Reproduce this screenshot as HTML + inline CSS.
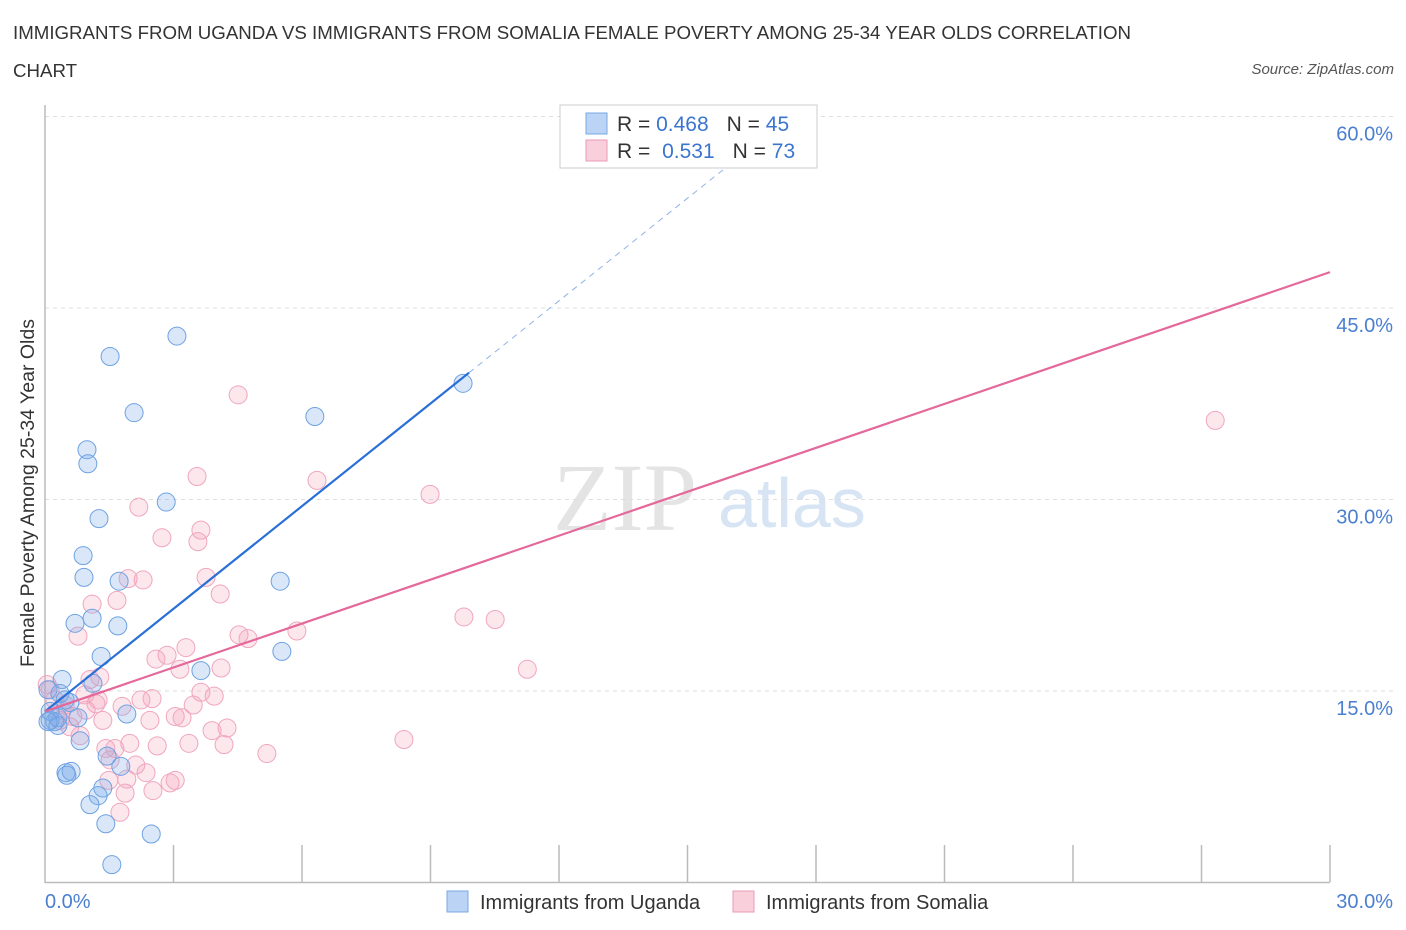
<!DOCTYPE html>
<html><head><meta charset="utf-8"><style>
body{margin:0;background:#fff;font-family:"Liberation Sans",Arial,sans-serif;}
.t{position:absolute;color:#333;}
</style></head><body>
<div style="position:relative;width:1406px;height:930px;overflow:hidden">
<div class="t" style="left:13px;top:14px;font-size:18.7px;line-height:38px;width:1160px">IMMIGRANTS FROM UGANDA VS IMMIGRANTS FROM SOMALIA FEMALE POVERTY AMONG 25-34 YEAR OLDS CORRELATION CHART</div>
<div class="t" style="right:12px;top:61px;font-size:15px;font-style:italic;color:#555">Source: ZipAtlas.com</div>
<svg id="svg" width="1406" height="930" style="position:absolute;left:0;top:0"></svg>
</div>
<script>
const ugandaX=[1.52,3.08,2.08,6.30,9.76,0.98,1.00,2.83,1.26,0.89,0.91,1.73,5.49,0.70,1.10,1.70,1.31,5.53,3.64,1.12,0.40,0.07,0.35,0.58,1.91,0.77,0.12,0.23,0.30,0.82,1.45,1.77,0.49,0.61,0.51,1.35,1.24,1.05,1.42,2.48,1.56,0.12,0.47,0.30,0.07];
const ugandaY=[41.2,42.8,36.8,36.5,39.1,33.9,32.8,29.8,28.5,25.6,23.9,23.6,23.6,20.3,20.7,20.1,17.7,18.1,16.6,15.6,15.9,15.1,14.8,14.1,13.2,12.9,12.7,12.6,12.3,11.1,9.9,9.1,8.6,8.7,8.4,7.4,6.8,6.1,4.6,3.8,1.4,13.4,14.3,12.9,12.6];
const somaliaX=[14.71,4.51,27.32,3.55,6.35,8.99,2.19,2.73,3.64,3.57,3.76,2.29,1.94,4.09,1.68,1.10,4.53,4.74,5.88,0.77,3.29,2.85,2.59,3.15,4.11,9.78,10.51,11.26,1.28,1.05,2.50,3.64,3.95,2.24,1.80,1.19,3.46,0.96,3.04,3.20,1.35,2.45,0.35,4.25,3.90,0.58,1.98,2.62,3.36,4.18,1.42,1.63,8.38,5.18,2.12,2.36,1.49,1.91,2.92,1.87,2.52,1.75,0.82,0.23,0.12,0.47,0.65,1.24,0.40,1.52,0.05,0.93,3.04];
const somaliaY=[57.9,38.2,36.2,31.8,31.5,30.4,29.4,27.0,27.6,26.7,23.9,23.7,23.8,22.6,22.1,21.8,19.4,19.1,19.7,19.3,18.4,17.8,17.5,16.7,16.8,20.8,20.6,16.7,16.1,15.9,14.4,14.9,14.6,14.3,13.8,14.0,13.9,13.5,13.0,12.9,12.7,12.7,12.7,12.1,11.9,12.2,10.9,10.7,10.9,10.8,10.5,10.5,11.2,10.1,9.2,8.6,8.0,8.1,7.8,7.0,7.2,5.5,11.5,14.3,15.1,13.9,13.0,14.3,13.5,9.6,15.5,14.7,8.0];
const yTicks=[15,30,45,60];
const yTickLabels=["15.0%","30.0%","45.0%","60.0%"];
const xTicks=[0,3,6,9,12,15,18,21,24,27,30];
const ugandaFit=[13.4,2.68];
const somaliaFit=[13.4,1.147];

const NS="http://www.w3.org/2000/svg";
const svg=document.getElementById('svg');
const X0=45,X1=1330,Y0=882.5,Y60=116.5;
const sx=v=>X0+(v/30)*(X1-X0);
const sy=v=>Y0-(v/60)*(Y0-Y60);
function mk(tag,at,parent){const e=document.createElementNS(NS,tag);for(const k in at)e.setAttribute(k,at[k]);(parent||svg).appendChild(e);return e;}

let w=mk('text',{x:553,y:530,'font-size':96,'font-family':'Liberation Serif,serif',fill:'#e4e4e4'});w.textContent='ZIP';


let w2=mk('text',{x:718,y:527,'font-size':70,'font-family':'Liberation Sans,sans-serif',fill:'#d6e4f4'});w2.textContent='atlas';



yTicks.forEach((v,i)=>{
 const g=mk('line',{x1:X0,x2:1395,y1:sy(v),y2:sy(v),stroke:'#ddd','stroke-dasharray':'4,4'});
 
 
 const t=mk('text',{x:1393,y:sy(v)+24,'text-anchor':'end','font-size':20,fill:'#4a7fd0'});t.textContent=yTickLabels[i];
 
 
});
xTicks.forEach(v=>{
 if(v===0)return;
 const l=mk('line',{x1:sx(v),x2:sx(v),y1:845,y2:882,stroke:'#bbb','stroke-width':1.5});
 
 
});
let ax=mk('line',{x1:X0,x2:X0,y1:105,y2:883,stroke:'#bbb','stroke-width':1.5});


let bx=mk('line',{x1:X0,x2:X1,y1:882.5,y2:882.5,stroke:'#bbb','stroke-width':1.5});


let xl0=mk('text',{x:45,y:908,'font-size':20,fill:'#4a7fd0'});xl0.textContent='0.0%';


let xl1=mk('text',{x:1393,y:908,'text-anchor':'end','font-size':20,fill:'#4a7fd0'});xl1.textContent='30.0%';


let yt=mk('text',{x:34,y:493,'font-size':19.5,fill:'#333',transform:'rotate(-90 34 493)','text-anchor':'middle'});yt.textContent='Female Poverty Among 25-34 Year Olds';



function dots(xs,ys,fill,stroke,name){
 xs.forEach((x,i)=>{
  const c=mk('circle',{cx:sx(x),cy:sy(ys[i]),r:9,fill:fill,stroke:stroke,'stroke-width':1});
  
  
 });
}
dots(somaliaX,somaliaY,'rgba(244,160,185,0.25)','#f0a6bf','somalia-point');
dots(ugandaX,ugandaY,'rgba(120,170,235,0.28)','#6ea2e2','uganda-point');

const uEnd=9.9;
let ul=mk('line',{x1:sx(0),y1:sy(ugandaFit[0]),x2:sx(uEnd),y2:sy(ugandaFit[0]+ugandaFit[1]*uEnd),stroke:'#2a6fd6','stroke-width':2.2});


const uDash=16.7;
let ud=mk('line',{x1:sx(uEnd),y1:sy(ugandaFit[0]+ugandaFit[1]*uEnd),x2:sx(uDash),y2:sy(ugandaFit[0]+ugandaFit[1]*uDash),stroke:'#8fb3e6','stroke-width':1,'stroke-dasharray':'6,5'});


let sl=mk('line',{x1:sx(0),y1:sy(somaliaFit[0]),x2:sx(30),y2:sy(somaliaFit[0]+somaliaFit[1]*30),stroke:'#e4689a','stroke-width':2.2});



let lb=mk('rect',{x:560,y:105,width:257,height:63,fill:'#fff',stroke:'#ccc'});


[[0,'rgba(120,170,235,0.5)','#7aa8e4','0.468','45'],[1,'rgba(244,160,185,0.5)','#eb9ab4','0.531','73']].forEach(r=>{
 const y=113+r[0]*27;
 const s=mk('rect',{x:586,y:y,width:21,height:21,fill:r[1],stroke:r[2]});
 
 
 const t=mk('text',{x:617,y:y+18,'font-size':21,fill:'#333'});
 t.innerHTML='R = <tspan fill="#3b75cf" dx="'+(r[0]?6:0)+'">'+r[3]+'</tspan><tspan dx="18">N = </tspan><tspan fill="#3b75cf">'+r[4]+'</tspan>';
 
 
});
[[447,'rgba(120,170,235,0.5)','#7aa8e4','Immigrants from Uganda'],[733,'rgba(244,160,185,0.5)','#eb9ab4','Immigrants from Somalia']].forEach(r=>{
 const s=mk('rect',{x:r[0],y:891,width:21,height:21,fill:r[1],stroke:r[2]});
 
 
 const t=mk('text',{x:r[0]+33,y:909,'font-size':20,fill:'#333'});t.textContent=r[3];
 
 
});
</script>
</body></html>
